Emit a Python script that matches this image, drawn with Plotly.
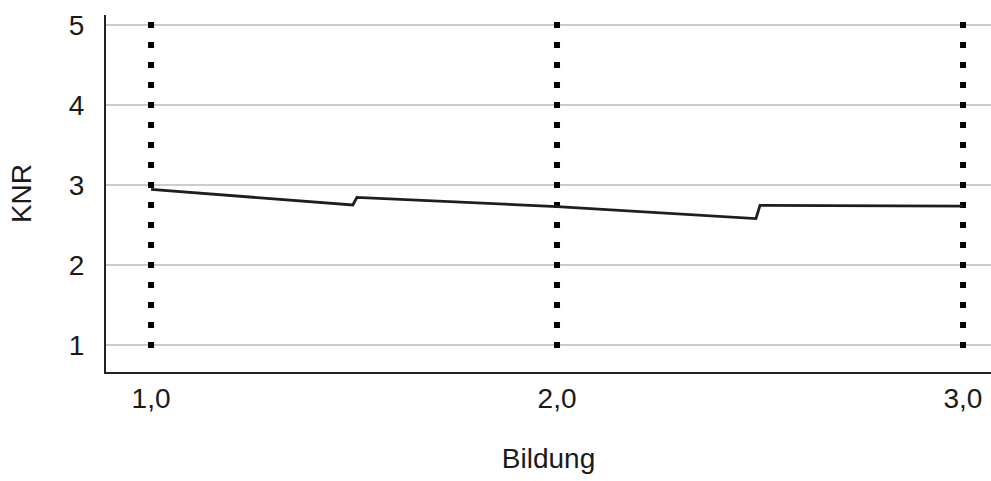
import plotly.graph_objects as go

# Data
bildung = [1.0, 1.497, 1.507, 2.0, 2.49, 2.50, 3.0]
knr = [2.945, 2.75, 2.845, 2.73, 2.58, 2.745, 2.735]

ref_x = [1.0, 2.0, 3.0]
ref_y_low = 1
ref_y_high = 5

y_ticks = [1, 2, 3, 4, 5]
x_ticks = [1.0, 2.0, 3.0]
x_tick_labels = ["1,0", "2,0", "3,0"]

y_range = [0.6625, 5.125]
plot_h = 481 - 15 - 109
half_dot = 3 * (y_range[1] - y_range[0]) / plot_h  # half a dot, in data units

fig = go.Figure()

vx, vy = [], []
for xv in ref_x:
    vx += [xv, xv, None]
    vy += [ref_y_low - half_dot, ref_y_high + half_dot, None]
fig.add_trace(go.Scatter(x=vx, y=vy, mode="lines",
                         line=dict(color="#000000", width=6, dash="6px,14px"),
                         hoverinfo="skip", showlegend=False))

fig.add_trace(go.Scatter(x=bildung, y=knr, mode="lines",
                         line=dict(color="#1e1e1e", width=2.8),
                         showlegend=False))

font = "Liberation Sans, Arial, sans-serif"
fs = 28
fig.update_layout(
    width=991, height=481,
    margin=dict(l=106, r=0, t=15, b=109),
    paper_bgcolor="white", plot_bgcolor="white",
    font=dict(family=font, size=fs, color="#1a1a1a"),
    xaxis=dict(range=[0.889, 3.069], tickvals=x_ticks, ticktext=x_tick_labels,
               showgrid=False, zeroline=False, showline=True, linecolor="#222222",
               linewidth=2, ticks="", ticklabelstandoff=0,
               tickfont=dict(size=fs),
               title=dict(text="Bildung", standoff=36, font=dict(size=fs))),
    yaxis=dict(range=y_range, tickvals=y_ticks,
               showgrid=True, gridcolor="#cccccc", gridwidth=1.5, zeroline=False,
               showline=True, linecolor="#222222", linewidth=2, ticks="",
               ticklabelstandoff=14, tickfont=dict(size=fs),
               title=dict(text="KNR", standoff=29, font=dict(size=fs))),
)

fig.write_html("out.html")
